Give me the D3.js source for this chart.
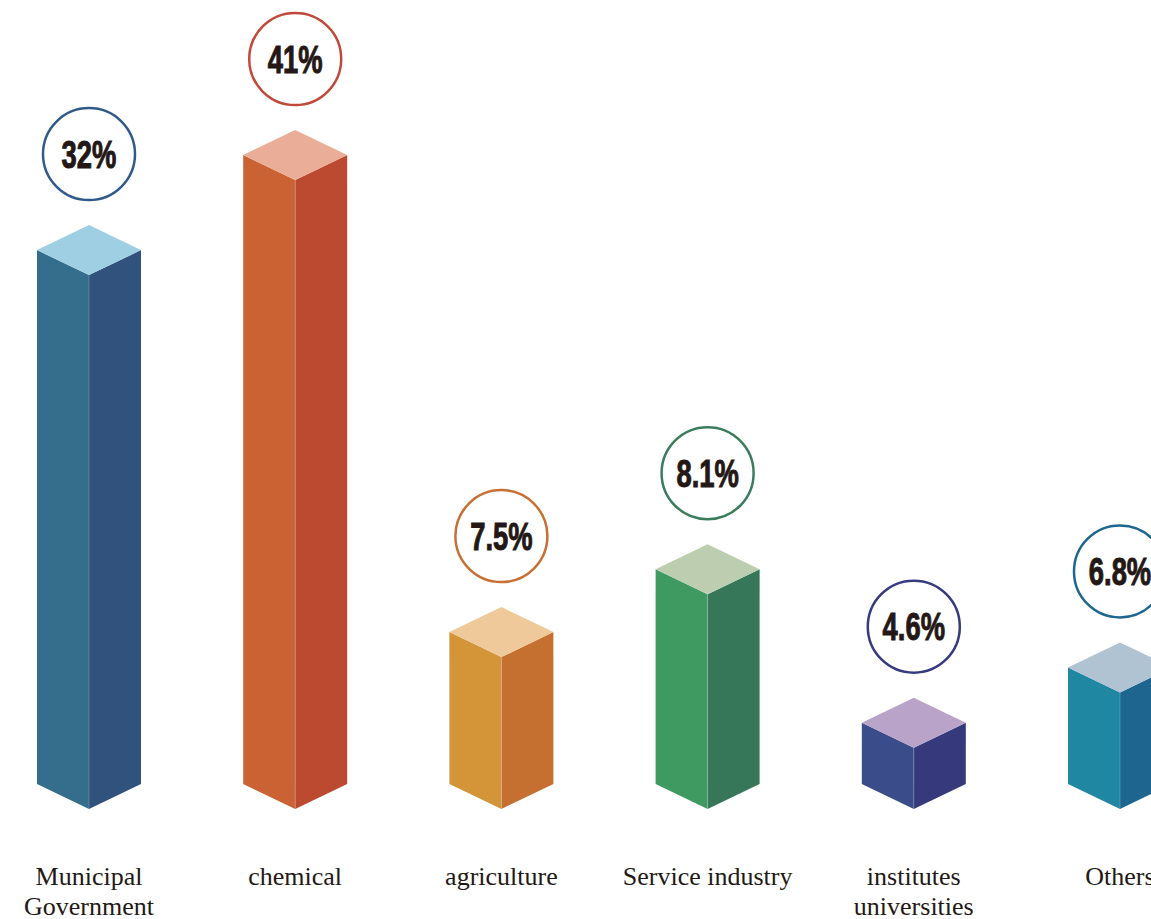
<!DOCTYPE html>
<html>
<head>
<meta charset="utf-8">
<script src="https://cdn.jsdelivr.net/npm/d3@7/dist/d3.min.js"></script>
<style>
html,body{margin:0;padding:0;background:#fff;}
svg{display:block;}
</style>
</head>
<body>
<svg id="chart" width="1151" height="919"></svg>
<script>
// ---- data ----
const categories = ["Municipal\nGovernment", "chemical", "agriculture", "Service industry", "institutes\nuniversities", "Others"];
const shareLabels = ["32%", "41%", "7.5%", "8.1%", "4.6%", "6.8%"];
const shareValues = [32, 41, 7.5, 8.1, 4.6, 6.8];
// drawn bar heights as they appear in the infographic (in % units)
const barLevels = [34.8, 41, 9.9, 14.0, 4.0, 7.6];
const leftColors  = ["#356d8c", "#cb6233", "#d39538", "#3f9a62", "#3a4c8a", "#2087a2"];
const rightColors = ["#30527c", "#bc4a31", "#c56f31", "#377759", "#363a7c", "#1e6690"];
const topColors   = ["#9ecfe3", "#eaae98", "#efc99a", "#bccdb0", "#b9a3c9", "#b0c3d3"];
const ringColors  = ["#2f5a8a", "#c0493a", "#c86f34", "#3a7d5c", "#363a7e", "#1e6690"];

const svg = d3.select("#chart");
const baseY = 784;       // bottom of side edges
const halfW = 52;        // half width of bar
const dy = 25;           // isometric offset
const ringR = 46;
const ringGap = 71;

const x = d3.scalePoint().domain(d3.range(categories.length)).range([89, 1120]);
const h = d3.scaleLinear().domain([0, 41]).range([0, 629]);

const data = categories.map((c, i) => ({c, i, label: shareLabels[i], v: shareValues[i], lvl: barLevels[i]}));

const g = svg.append("g");
const bars = g.selectAll("g.bar").data(data).enter().append("g").attr("class", "bar");

function pts(p){ return p.map(d => d.join(",")).join(" "); }

bars.append("polygon")
  .attr("points", d => {
    const cx = x(d.i), top = baseY - h(d.lvl);
    return pts([[cx - halfW, top], [cx, top + dy], [cx, baseY + dy], [cx - halfW, baseY]]);
  })
  .attr("fill", d => leftColors[d.i]);

bars.append("polygon")
  .attr("points", d => {
    const cx = x(d.i), top = baseY - h(d.lvl);
    return pts([[cx, top + dy], [cx + halfW, top], [cx + halfW, baseY], [cx, baseY + dy]]);
  })
  .attr("fill", d => rightColors[d.i]);

bars.append("line")
  .attr("x1", d => x(d.i)).attr("x2", d => x(d.i))
  .attr("y1", d => baseY - h(d.lvl) + dy).attr("y2", baseY + dy)
  .attr("stroke", "#ffffff").attr("stroke-opacity", 0.2).attr("stroke-width", 1);

bars.append("polygon")
  .attr("points", d => {
    const cx = x(d.i), top = baseY - h(d.lvl);
    return pts([[cx, top - dy], [cx + halfW, top], [cx, top + dy], [cx - halfW, top]]);
  })
  .attr("fill", d => topColors[d.i]);

const ringY = d => baseY - h(d.lvl) - dy - ringGap;

// rings
bars.append("circle")
  .attr("cx", d => x(d.i))
  .attr("cy", ringY)
  .attr("r", ringR)
  .attr("fill", "#fff")
  .attr("stroke", d => ringColors[d.i])
  .attr("stroke-width", 2.5);

bars.append("text")
  .attr("transform", d => `translate(${x(d.i)},${ringY(d) + 13.5}) scale(0.72,1)`)
  .attr("text-anchor", "middle")
  .attr("font-family", "'Liberation Sans', Arial, sans-serif")
  .attr("font-weight", "bold")
  .attr("font-size", 38)
  .attr("fill", "#231815")
  .attr("stroke", "#231815")
  .attr("stroke-width", 1)
  .text(d => d.label);

// category labels
const lab = bars.append("text")
  .attr("text-anchor", "middle")
  .attr("font-family", "'Liberation Serif', 'Times New Roman', serif")
  .attr("font-size", 26)
  .attr("fill", "#231815");
lab.each(function(d){
  const lines = d.c.split("\n");
  const t = d3.select(this);
  lines.forEach((ln, k) => {
    t.append("tspan").attr("x", x(d.i)).attr("y", 885 + k * 30).text(ln);
  });
});
</script>
</body>
</html>
